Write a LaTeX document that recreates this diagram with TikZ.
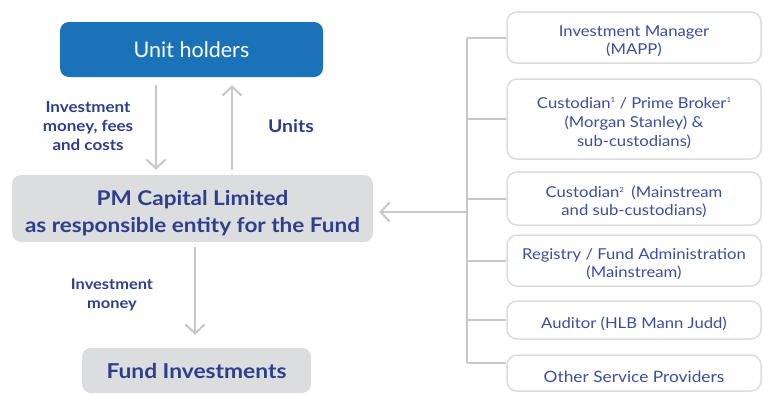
\documentclass[tikz,border=0pt]{standalone}
\usepackage{fontspec}
\setmainfont{Lato}[FakeStretch=1.11]
\newfontfamily\plainlato{Lato}
\usetikzlibrary{arrows.meta}
\definecolor{holderblue}{HTML}{1A73B8}
\definecolor{boxgrey}{HTML}{DCDDDF}
\definecolor{navytext}{HTML}{2C3E8C}
\definecolor{servtext}{HTML}{3A4F9F}
\definecolor{linegrey}{HTML}{C8C8C8}
\definecolor{edgegrey}{HTML}{DCDCDC}
\newcommand{\supnum}[1]{\raisebox{0.75ex}{\fontsize{7}{7}\selectfont #1}}
\newcommand{\topstrut}[1]{\rule{0pt}{#1}}

\begin{document}
\begin{tikzpicture}[x=1pt, y=-1pt,
	flow/.style = {draw=linegrey, line width=2pt, -{Straight Barb[length=9pt, width=19pt, line width=2pt]}},
	link/.style = {draw=linegrey, line width=2pt},
	party/.style = {rounded corners=9pt, fill=boxgrey, text=navytext, font=\bfseries, align=center, inner sep=0pt},
	service/.style = {rounded corners=10pt, draw=edgegrey, line width=1.5pt, fill=white, text=servtext,
		font=\fontsize{15}{18}\selectfont, align=center, inner sep=0pt, minimum width=254pt},
	flowlabel/.style = {text=navytext, font=\bfseries\fontsize{15.3}{19}\selectfont, align=center}]
	\useasboundingbox (0,0) rectangle (763,394);
	% left hand side
	\node[party, fill=holderblue, text=white, font=\plainlato\fontsize{21.5}{25}\selectfont, minimum width=263pt, minimum height=55pt] (holders) at (191.5, 49.5) {Unit holders};
	\node[party, font=\bfseries\fontsize{20.3}{27}\selectfont, minimum width=361pt, minimum height=67pt] (rentity) at (192.5, 208.5) {\topstrut{25pt}PM Capital Limited\\as responsible entity for the Fund};
	\node[party, font=\bfseries\fontsize{20.5}{24}\selectfont, minimum width=229pt, minimum height=45pt] (fundinv) at (196.5, 370.5) {Fund Investments};
	\draw[flow, shorten <=8pt, shorten >=5pt] ([xshift=-35.5pt]holders.south) -- ([xshift=-35.5pt]holders.south |- rentity.north);
	\draw[flow, shorten <=5pt, shorten >=8pt] ([xshift=40.5pt]holders.south |- rentity.north) -- ([xshift=40.5pt]holders.south);
	\draw[flow, shorten <=5pt, shorten >=13pt] ([xshift=2.5pt]rentity.south) -- ([xshift=2.5pt]rentity.south |- fundinv.north);
	\node[flowlabel] (lblmoney) at (88, 126) {Investment\\money, fees\\and costs};
	\node[flowlabel, font=\bfseries\fontsize{17.5}{19}\selectfont] (lblunits) at (291, 126) {Units};
	\node[flowlabel, font=\bfseries\fontsize{14.8}{19}\selectfont] (lblinvest) at (112, 295) {Investment\\money};
	% service providers
	\node[service, minimum height=51pt] (manager) at (634, 37.5) {\topstrut{19pt}Investment Manager\\(MAPP)};
	\node[service, minimum height=80pt, font=\fontsize{15}{19}\selectfont] (primebroker) at (634, 119) {\topstrut{19pt}Custodian\supnum{1} / Prime Broker\supnum{1}\\(Morgan Stanley) \&\\sub-custodians)};
	\node[service, minimum height=53pt] (custodian) at (634, 198.5) {\topstrut{19pt}Custodian\supnum{2}\enspace(Mainstream\\and sub-custodians)};
	\node[service, minimum height=51pt] (registry) at (634, 260.5) {\topstrut{19pt}Registry / Fund Administration\\(Mainstream)};
	\node[service, minimum height=38pt] (auditor) at (634, 320) {\topstrut{19pt}Auditor (HLB Mann Judd)};
	\node[service, minimum height=36pt, font=\fontsize{15.6}{18}\selectfont] (others) at (634, 373) {\topstrut{19pt}Other Service Providers};
	\coordinate (bus) at (467, 212);
	\draw[link] (bus |- manager.west) -- (bus |- 0,363);
	\foreach \svc in {manager, primebroker, custodian, registry, auditor}
		\draw[link] (\svc.west) -- (bus |- \svc.west);
	\draw[link] ([yshift=10pt]others.west) -- (bus |- 0,363);
	\draw[flow, shorten >=6pt] (bus) -- (rentity.east |- bus);
\end{tikzpicture}
\end{document}
